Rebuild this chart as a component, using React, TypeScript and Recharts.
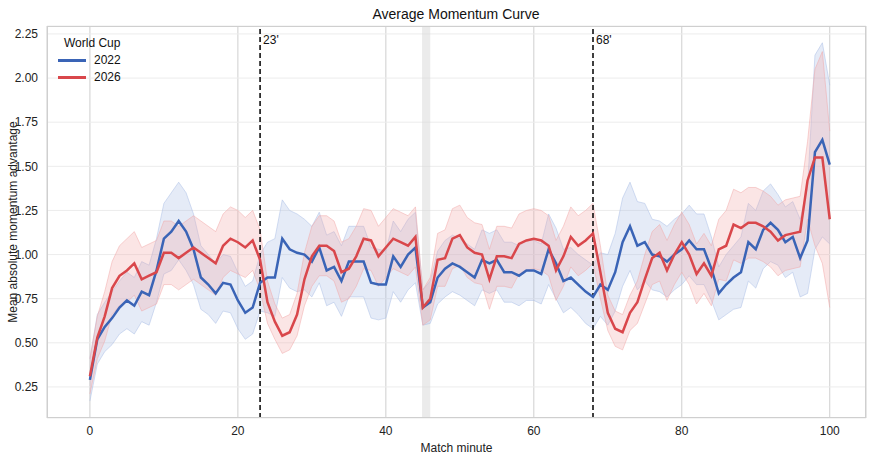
import { ComposedChart, Line, Area, XAxis, YAxis, CartesianGrid, ReferenceLine, ReferenceArea } from 'recharts'

const BLUE = '#3a64b6'
const RED = '#d9474b'
const FONT = '"Liberation Sans", Arial, sans-serif'

const minutes = Array.from({ length: 101 }, (_, i) => i)

const wc2022 = [
  0.29, 0.52, 0.59, 0.64, 0.7, 0.74, 0.71, 0.79, 0.77, 0.91,
  1.09, 1.13, 1.19, 1.13, 1.03, 0.87, 0.83, 0.78, 0.84, 0.83,
  0.74, 0.67, 0.7, 0.84, 0.87, 0.87, 1.09, 1.03, 1.01, 1.0,
  0.96, 1.04, 0.91, 0.93, 0.85, 0.96, 0.96, 0.96, 0.84, 0.83,
  0.83, 0.99, 0.93, 1.0, 1.04, 0.7, 0.73, 0.87, 0.92, 0.95,
  0.93, 0.9, 0.87, 0.97, 0.95, 0.97, 0.9, 0.9, 0.88, 0.91,
  0.91, 0.89, 1.03, 0.95, 0.85, 0.87, 0.83, 0.79, 0.76, 0.83,
  0.8, 0.9, 1.07, 1.16, 1.05, 1.07, 1.0, 0.99, 0.96, 1.0,
  1.03, 1.08, 1.03, 1.03, 0.92, 0.78, 0.83, 0.87, 0.9, 1.07,
  1.03, 1.14, 1.18, 1.14, 1.07, 1.1, 0.98, 1.08, 1.58, 1.65,
  1.51,
]

const wc2026 = [
  0.31, 0.53, 0.65, 0.81, 0.88, 0.91, 0.95, 0.86, 0.88, 0.9,
  1.01, 1.01, 0.98, 1.01, 1.04, 1.01, 0.98, 0.95, 1.05, 1.09,
  1.07, 1.04, 1.08, 0.97, 0.73, 0.62, 0.54, 0.56, 0.66, 0.86,
  0.99, 1.05, 1.05, 1.02, 0.9, 0.92, 0.99, 1.09, 1.08, 0.99,
  1.04, 1.09, 1.07, 1.05, 1.1, 0.7, 0.75, 0.97, 0.98, 1.09,
  1.11, 1.04, 1.01, 1.0, 0.86, 0.99, 0.99, 0.98, 1.06, 1.08,
  1.09, 1.08, 1.05, 0.91, 0.99, 1.1, 1.05, 1.08, 1.12, 0.9,
  0.67, 0.58, 0.56, 0.67, 0.73, 0.86, 0.98, 1.01, 0.91, 1.0,
  1.07, 1.0, 0.89, 0.95, 0.88, 1.03, 1.05, 1.17, 1.15, 1.18,
  1.18, 1.16, 1.13, 1.08, 1.11, 1.12, 1.13, 1.42, 1.55, 1.55,
  1.2,
]

// half-width of the shaded confidence band
const ci2022 = [
  0.12, 0.14, 0.14, 0.15, 0.15, 0.16, 0.16, 0.17, 0.17, 0.18,
  0.2, 0.22, 0.22, 0.22, 0.2, 0.18, 0.17, 0.17, 0.16, 0.16,
  0.16, 0.15, 0.15, 0.16, 0.2, 0.22, 0.22, 0.22, 0.22, 0.2,
  0.2, 0.2, 0.2, 0.2, 0.2, 0.2, 0.2, 0.2, 0.2, 0.2,
  0.19, 0.2, 0.2, 0.2, 0.2, 0.1, 0.12, 0.15, 0.16, 0.16,
  0.16, 0.16, 0.16, 0.17, 0.17, 0.17, 0.17, 0.17, 0.17, 0.17,
  0.17, 0.17, 0.2, 0.2, 0.18, 0.17, 0.17, 0.18, 0.18, 0.18,
  0.2, 0.22, 0.25, 0.25, 0.25, 0.22, 0.2, 0.2, 0.2, 0.2,
  0.2, 0.2, 0.2, 0.2, 0.18, 0.15, 0.17, 0.18, 0.2, 0.22,
  0.22, 0.22, 0.22, 0.2, 0.2, 0.2, 0.22, 0.3, 0.55, 0.55,
  0.45,
]

const ci2026 = [
  0.1, 0.12, 0.14, 0.15, 0.17, 0.18, 0.18, 0.18, 0.18, 0.18,
  0.18, 0.18, 0.18, 0.18, 0.18, 0.18, 0.18, 0.18, 0.18, 0.18,
  0.18, 0.17, 0.17, 0.17, 0.12, 0.1, 0.1, 0.1, 0.12, 0.15,
  0.17, 0.17, 0.17, 0.17, 0.17, 0.17, 0.17, 0.17, 0.17, 0.17,
  0.17, 0.17, 0.17, 0.17, 0.17, 0.1, 0.12, 0.15, 0.16, 0.17,
  0.17, 0.17, 0.17, 0.17, 0.17, 0.17, 0.17, 0.17, 0.17, 0.17,
  0.17, 0.17, 0.17, 0.17, 0.17, 0.17, 0.17, 0.17, 0.17, 0.15,
  0.1, 0.1, 0.1, 0.1, 0.12, 0.14, 0.15, 0.16, 0.17, 0.17,
  0.17, 0.17, 0.17, 0.17, 0.17, 0.17, 0.2, 0.2, 0.2, 0.2,
  0.2, 0.2, 0.2, 0.2, 0.2, 0.2, 0.2, 0.22, 0.5, 0.6,
  0.5,
]

const xTicks = [0, 20, 40, 60, 80, 100]
const yTicks = [0.25, 0.5, 0.75, 1.0, 1.25, 1.5, 1.75, 2.0, 2.25]
const markers = [23, 68]

const data = minutes.map((m, i) => ({
  minute: m,
  wc2022: wc2022[i],
  wc2026: wc2026[i],
  band2022: [wc2022[i] - ci2022[i], wc2022[i] + ci2022[i]],
  band2026: [wc2026[i] - ci2026[i], wc2026[i] + ci2026[i]],
}))

export default function App() {
  return (
    <div style={{ position: 'absolute', left: 0, top: 0, width: 875, height: 458, fontFamily: FONT, background: '#fff' }}>
      <div style={{ position: 'absolute', left: 0, width: 912, top: 6, textAlign: 'center', fontSize: 14, color: '#111' }}>
        Average Momentum Curve
      </div>
      <ComposedChart width={875} height={458} data={data} margin={{ top: 26, right: 9, bottom: 0, left: 7 }}>
        <CartesianGrid horizontal={false} stroke="#cfcfcf" />
        <CartesianGrid vertical={false} stroke="#ececec" />
        <XAxis
          dataKey="minute"
          type="number"
          domain={[-5.8, 104.9]}
          ticks={xTicks}
          allowDataOverflow
          height={40}
          tickLine={false}
          axisLine={false}
          tick={{ fontSize: 12, fill: '#222', fontFamily: FONT }}
          tickMargin={2}
          label={{ value: 'Match minute', position: 'insideBottom', offset: 6, fontSize: 12, fill: '#222', fontFamily: FONT }}
        />
        <YAxis
          type="number"
          domain={[0.074, 2.295]}
          ticks={yTicks}
          allowDataOverflow
          width={40}
          tickLine={false}
          axisLine={false}
          tickFormatter={(v) => v.toFixed(2)}
          tick={{ fontSize: 12, fill: '#222', fontFamily: FONT }}
          tickMargin={3}
          label={{ value: 'Mean absolute momentum advantage', angle: -90, position: 'insideLeft', offset: 6, style: { textAnchor: 'middle' }, fontSize: 12, fill: '#222', fontFamily: FONT }}
        />
        <ReferenceArea x1={44.9} x2={46} fill="#d8d8d8" fillOpacity={0.5} stroke="none" />
        <Area dataKey="band2022" stroke="#a9bde6" strokeOpacity={0.5} fill="#a9bde6" fillOpacity={0.3} isAnimationActive={false} type="linear" />
        <Area dataKey="band2026" stroke="#f1a8a8" strokeOpacity={0.5} fill="#f1a8a8" fillOpacity={0.3} isAnimationActive={false} type="linear" />
        {markers.map((m) => (
          <ReferenceLine
            key={m}
            x={m}
            stroke="#000"
            strokeWidth={1.5}
            strokeDasharray="5 3"
            label={{ value: `${m}'`, position: 'insideTopLeft', fontSize: 12, fill: '#111', fontFamily: FONT, dx: -2, dy: 4 }}
          />
        ))}
        <Line dataKey="wc2022" stroke={BLUE} strokeWidth={2.5} dot={false} isAnimationActive={false} type="linear" />
        <Line dataKey="wc2026" stroke={RED} strokeWidth={2.5} dot={false} isAnimationActive={false} type="linear" />
      </ComposedChart>
      <div style={{ position: 'absolute', left: 47, top: 26, width: 819, height: 392, border: '1px solid #cfcfcf', boxSizing: 'border-box', pointerEvents: 'none' }} />
      <div style={{ position: 'absolute', left: 58, top: 35, fontSize: 12, color: '#111', lineHeight: '17px' }}>
        <div style={{ paddingLeft: 6 }}>World Cup</div>
        {[['2022', BLUE], ['2026', RED]].map(([name, color]) => (
          <div key={name} style={{ display: 'flex', alignItems: 'center' }}>
            <span style={{ display: 'inline-block', width: 28, height: 2.5, background: color, marginRight: 8 }} />
            {name}
          </div>
        ))}
      </div>
    </div>
  )
}
